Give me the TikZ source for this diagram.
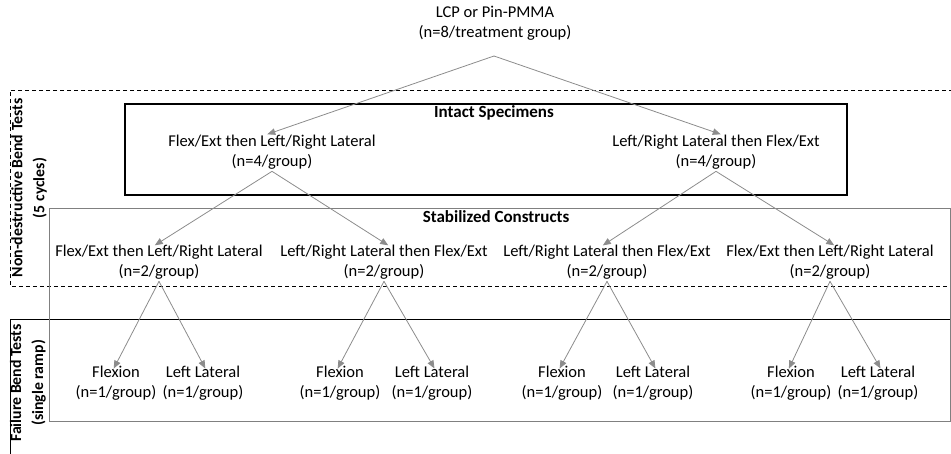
\documentclass[tikz,border=0pt]{standalone}
\usepackage{fontspec}
\setmainfont{Carlito}
\usetikzlibrary{arrows.meta, positioning}

\begin{document}
\begin{tikzpicture}[x=1pt, y=1pt,
		txt/.style={
			align=center, 
			font=\fontsize{16.5}{20}\selectfont, 
			inner sep=2pt
		},
		head/.style={
			font=\fontsize{17}{20}\selectfont\bfseries
		},
		side/.style={
			rotate=90, 
			align=center, 
			font=\fontsize{15.8}{22}\selectfont\bfseries
		},
		arrow/.style={
			-{Triangle[length=8pt, width=6.5pt]}, 
			line width=0.8pt, 
			draw=gray!90,
			shorten >=-5pt
		},
		dashbox/.style={
			dashed, 
			line width=0.9pt, 
			dash pattern=on 4pt off 3pt
		}
		]
		\useasboundingbox (0,0) rectangle (951,-454);
		
		% Group frames
		\draw[dashbox] (960,-90) -- (10,-90) -- (10,-286) -- (960,-286);
		\draw[line width=0.9pt] (960,-319) -- (10,-319) -- (10,-460);
		\draw[line width=1.1pt] (125,-104) rectangle (847,-195);
		\draw[gray, line width=0.6pt] (49,-208) rectangle (950,-421);
		
		% Frame titles
		\node[head] at (494,-113) {Intact Specimens};
		\node[head] at (496,-217) {Stabilized Constructs};
		\node[side] at (29,-188) {Non-destructive Bend Tests\\(5 cycles)};
		\node[side] at (28,-383) {Failure Bend Tests\\(single ramp)};
		
		% Main nodes
		\node (root) [txt] at (495,-23) {LCP or Pin-PMMA\\(n=8/treatment group)};
		\node (fe) [txt] at (272,-152) {Flex/Ext then Left/Right Lateral\\(n=4/group)};
		\node (lr) [txt] at (716,-152) {Left/Right Lateral then Flex/Ext\\(n=4/group)};
		\node (fe-fe) [txt] at (159,-262) {Flex/Ext then Left/Right Lateral\\(n=2/group)};
		\node (fe-lr) [txt] at (384,-262) {Left/Right Lateral then Flex/Ext\\(n=2/group)};
		\node (lr-lr) [txt] at (607,-262) {Left/Right Lateral then Flex/Ext\\(n=2/group)};
		\node (lr-fe) [txt] at (830,-262) {Flex/Ext then Left/Right Lateral\\(n=2/group)};
		
		% Failure tests
		\node (flex1) [txt] at (116,-383.5) {Flexion\\(n=1/group)};
		\node (lat1) [txt] at (203,-383.5) {Left Lateral\\(n=1/group)};
		\node (flex2) [txt] at (340,-383.5) {Flexion\\(n=1/group)};
		\node (lat2) [txt] at (432,-383.5) {Left Lateral\\(n=1/group)};
		\node (flex3) [txt] at (562,-383.5) {Flexion\\(n=1/group)};
		\node (lat3) [txt] at (653,-383.5) {Left Lateral\\(n=1/group)};
		\node (flex4) [txt] at (791,-383.5) {Flexion\\(n=1/group)};
		\node (lat4) [txt] at (878,-383.5) {Left Lateral\\(n=1/group)};
		
		\coordinate (rootfork) at (494,-56);
		
		% Connection arrows
		\draw [arrow] (rootfork) -- (fe.north);
		\draw [arrow] (rootfork) -- (lr.north);
		\draw [arrow] (fe.south) -- (fe-fe.north);
		\draw [arrow] (fe.south) -- (fe-lr.north);
		\draw [arrow] (lr.south) -- (lr-lr.north);
		\draw [arrow] (lr.south) -- (lr-fe.north);
		\draw [arrow] (fe-fe.south) -- (flex1.north);
		\draw [arrow] (fe-fe.south) -- (lat1.north);
		\draw [arrow] (fe-lr.south) -- (flex2.north);
		\draw [arrow] (fe-lr.south) -- (lat2.north);
		\draw [arrow] (lr-lr.south) -- (flex3.north);
		\draw [arrow] (lr-lr.south) -- (lat3.north);
		\draw [arrow] (lr-fe.south) -- (flex4.north);
		\draw [arrow] (lr-fe.south) -- (lat4.north);
		
	\end{tikzpicture}
\end{document}
